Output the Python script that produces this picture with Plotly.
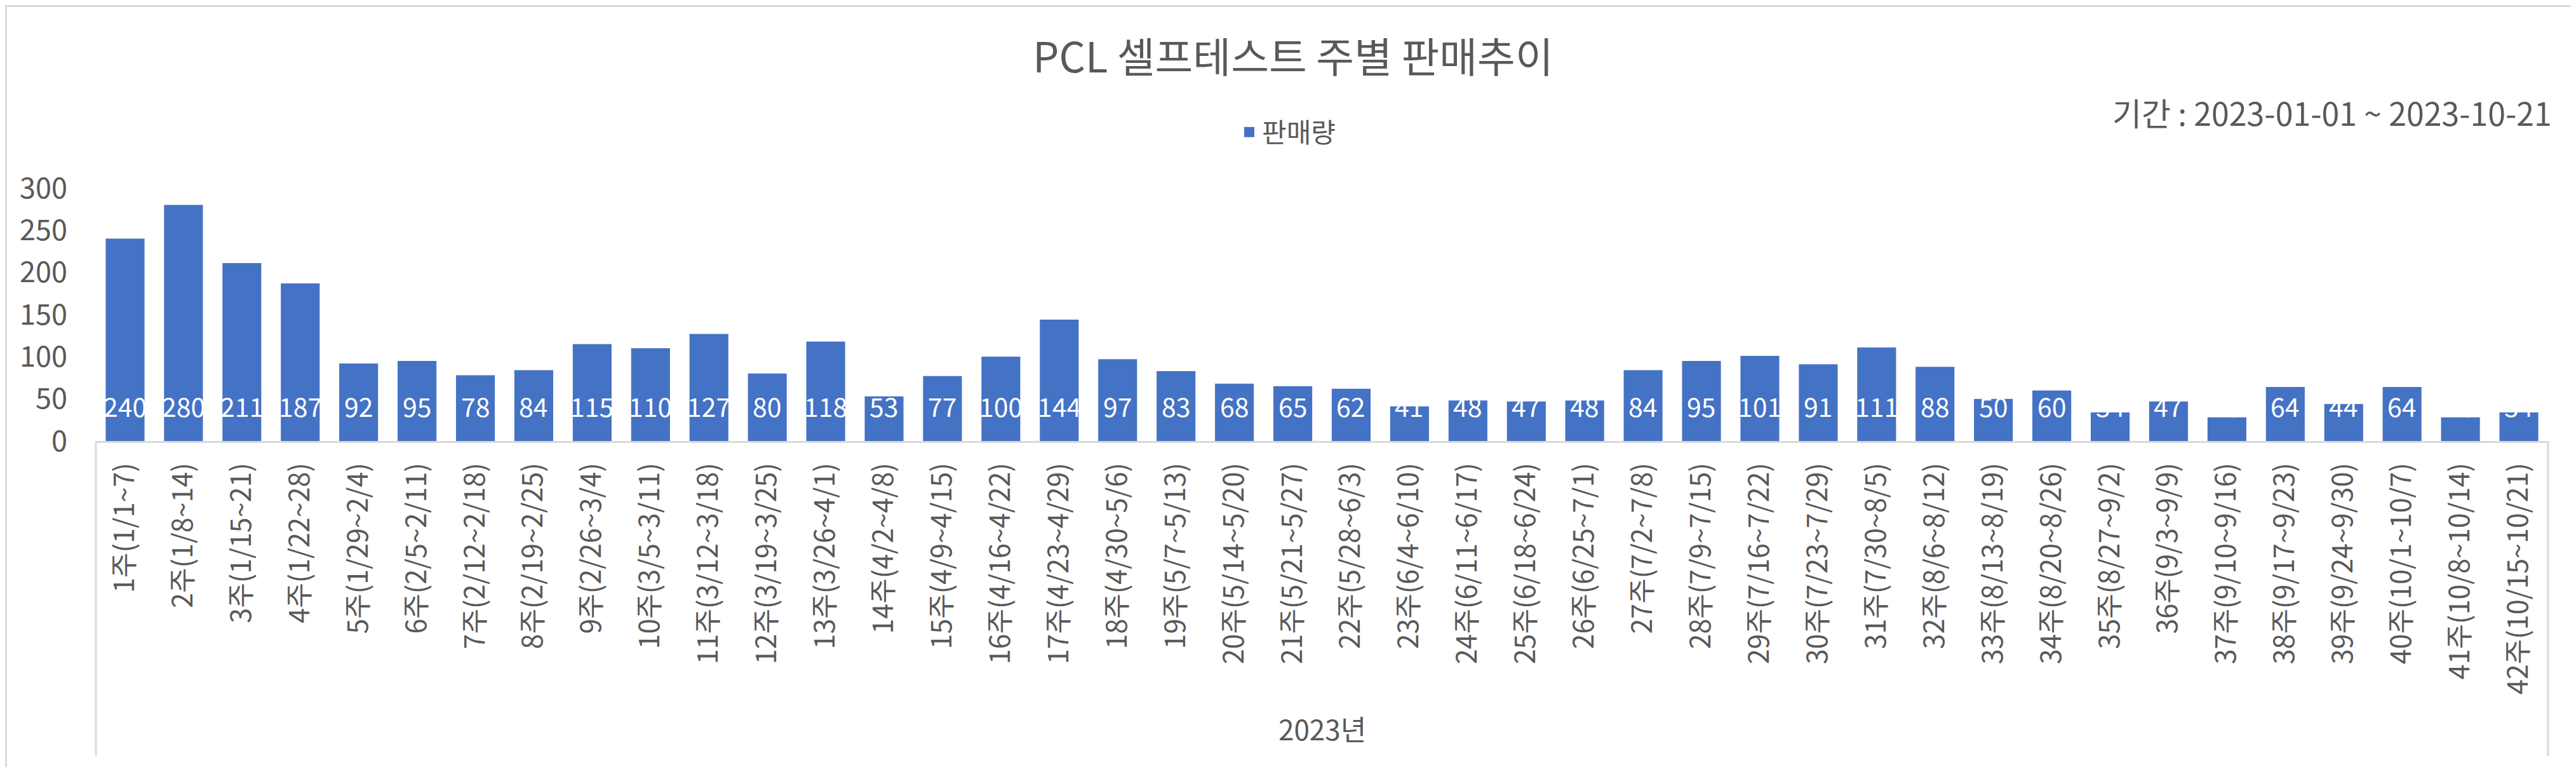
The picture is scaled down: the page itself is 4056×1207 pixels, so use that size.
import plotly.graph_objects as go

# ---------------- data ----------------
categories = [
    "1주(1/1~7)", "2주(1/8~14)", "3주(1/15~21)", "4주(1/22~28)",
    "5주(1/29~2/4)", "6주(2/5~2/11)", "7주(2/12~2/18)", "8주(2/19~2/25)",
    "9주(2/26~3/4)", "10주(3/5~3/11)", "11주(3/12~3/18)", "12주(3/19~3/25)",
    "13주(3/26~4/1)", "14주(4/2~4/8)", "15주(4/9~4/15)", "16주(4/16~4/22)",
    "17주(4/23~4/29)", "18주(4/30~5/6)", "19주(5/7~5/13)", "20주(5/14~5/20)",
    "21주(5/21~5/27)", "22주(5/28~6/3)", "23주(6/4~6/10)", "24주(6/11~6/17)",
    "25주(6/18~6/24)", "26주(6/25~7/1)", "27주(7/2~7/8)", "28주(7/9~7/15)",
    "29주(7/16~7/22)", "30주(7/23~7/29)", "31주(7/30~8/5)", "32주(8/6~8/12)",
    "33주(8/13~8/19)", "34주(8/20~8/26)", "35주(8/27~9/2)", "36주(9/3~9/9)",
    "37주(9/10~9/16)", "38주(9/17~9/23)", "39주(9/24~9/30)", "40주(10/1~10/7)",
    "41주(10/8~10/14)", "42주(10/15~10/21)",
]
sales = [
    240, 280, 211, 187, 92, 95, 78, 84, 115, 110, 127, 80, 118, 53,
    77, 100, 144, 97, 83, 68, 65, 62, 41, 48, 47, 48, 84, 95,
    101, 91, 111, 88, 50, 60, 34, 47, 28, 64, 44, 64, 28, 34,
]
series_name = "판매량"
group_label = "2023년"
y_ticks = [0, 50, 100, 150, 200, 250, 300]
title_text = "PCL 셀프테스트 주별 판매추이"
period_text = "기간 : 2023-01-01 ~ 2023-10-21"

# ---------------- layout constants ----------------
W, H = 4056, 1207
ML, MR, MT, MB = 143, 52, 288, 521
PW, PH = W - ML - MR, H - MT - MB
FONT = "Noto Sans CJK KR"
GRAY = "#595959"
LINE = "#d9d9d9"
BLUE = "#4472C4"


def px_x(px):
    return (px - ML) / PW


def px_y(py):
    return (H - MB - py) / PH


fig = go.Figure()
fig.add_trace(go.Bar(
    x=categories, y=sales, name=series_name, showlegend=False,
    marker=dict(color=BLUE, line=dict(width=0)),
))
# legend entry with an Excel-sized square key
fig.add_trace(go.Scatter(
    x=[None], y=[None], mode="markers", name=series_name, showlegend=True,
    marker=dict(symbol="square", size=22, color=BLUE),
))

# data labels near bar base (Excel "inside base")
for c, v in zip(categories, sales):
    fig.add_annotation(
        x=c, y=0, xref="x", yref="y", text=str(v), showarrow=False,
        yanchor="middle", yshift=56,
        font=dict(family=FONT, size=41, color="white"),
    )

fig.update_layout(
    width=W, height=H,
    margin=dict(l=ML, r=MR, t=MT, b=MB, autoexpand=False),
    paper_bgcolor="white", plot_bgcolor="white",
    font=dict(family=FONT, color=GRAY),
    bargap=0.335,
    title=dict(
        text=title_text, x=0.5, xref="container", xanchor="center",
        y=1 - 83 / H, yref="container", yanchor="middle",
        font=dict(family=FONT, size=65, color=GRAY),
    ),
    legend=dict(
        orientation="h", x=0.5 - 54 / PW, xanchor="center", xref="paper",
        y=px_y(200), yanchor="middle", yref="paper",
        font=dict(family=FONT, size=42, color=GRAY),
        bgcolor="rgba(0,0,0,0)", itemwidth=30,
    ),
    showlegend=True,
)

fig.update_xaxes(
    type="category", showgrid=False, zeroline=False,
    showline=True, linecolor=LINE, linewidth=3,
    ticks="", tickangle=-90, ticklabelstandoff=14,
    tickfont=dict(family=FONT, size=43, color=GRAY),
)
fig.update_yaxes(
    range=[0, 300], tickvals=y_ticks, showgrid=False, zeroline=False,
    showline=False, ticks="", ticklabelstandoff=44,
    tickfont=dict(family=FONT, size=45, color=GRAY),
)

# category box side lines
for xd in (0, 1):
    fig.add_shape(
        type="line", xref="x domain", yref="y domain",
        x0=xd, x1=xd, y0=0, y1=px_y(1182),
        line=dict(color=LINE, width=3),
    )

# group label
fig.add_annotation(
    text=group_label, xref="x domain", yref="y domain",
    x=0.5, y=px_y(1138), xanchor="center", yanchor="middle",
    showarrow=False, font=dict(family=FONT, size=44, color=GRAY),
)

# period subtitle
fig.add_annotation(
    text=period_text, xref="paper", yref="paper",
    x=px_x(4012), y=px_y(168), xanchor="right", yanchor="middle",
    showarrow=False, font=dict(family=FONT, size=50, color=GRAY),
)

# chart area border
fig.add_shape(
    type="rect", xref="paper", yref="paper",
    x0=px_x(1.5), x1=px_x(W - 3), y0=px_y(H - 3), y1=px_y(1.5),
    line=dict(color=LINE, width=3), fillcolor="rgba(0,0,0,0)", layer="below",
)

fig.write_html("out.html")
